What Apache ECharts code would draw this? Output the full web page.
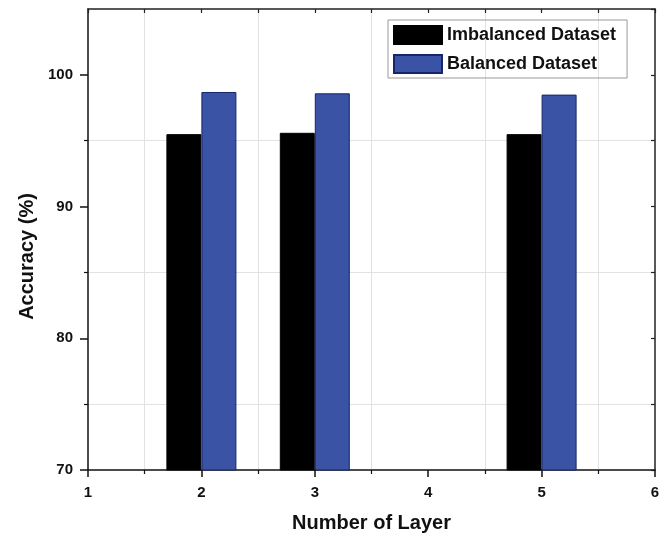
<!DOCTYPE html>
<html>
<head>
<meta charset="utf-8">
<script src="https://cdn.jsdelivr.net/npm/echarts@6/dist/echarts.min.js"></script>
<style>html,body{margin:0;padding:0;background:#fff}#c{width:664px;height:538px}</style>
</head>
<body>
<div id="c"></div>
<script>
var layers = [2, 3, 5];
var imbalanced = [95.5, 95.6, 95.5];
var balanced = [98.7, 98.6, 98.5];
var seriesNames = ['Imbalanced Dataset', 'Balanced Dataset'];
var yMajorTicks = [70, 80, 90, 100];
var yMinorTicks = [75, 85, 95];
var xTicks = [1, 2, 3, 4, 5, 6];

var FONT = "'Liberation Sans', Arial, sans-serif";
var chart = echarts.init(document.getElementById('c'), null, {renderer: 'canvas'});

function pairs(xs, ys) { return xs.map(function (x, i) { return [x, ys[i]]; }); }

chart.setOption({
  animation: false,
  grid: {left: 88, right: 9, top: 9, bottom: 68},
  legend: {
    orient: 'vertical', left: 388, top: 20,
    itemWidth: 48, itemHeight: 18, itemGap: 9,
    padding: [5, 11, 4, 5],
    borderColor: '#999', borderWidth: 1,
    icon: 'rect',
    data: seriesNames,
    textStyle: {fontFamily: FONT, fontWeight: 'bold', fontSize: 18, color: '#111'}
  },
  xAxis: [
    {
      type: 'value', position: 'bottom', min: 1, max: 6, interval: 1,
      axisLine: {show: true, onZero: false, lineStyle: {color: '#111', width: 1.5}},
      axisTick: {show: true, length: 7, lineStyle: {color: '#111', width: 1.5}},
      minorTick: {show: true, splitNumber: 2, length: 4, lineStyle: {color: '#111', width: 1.2}},
      splitLine: {show: false},
      minorSplitLine: {show: true, lineStyle: {color: '#e2e2e2', width: 1}},
      axisLabel: {margin: 15, fontFamily: FONT, fontWeight: 'bold', fontSize: 15, color: '#111',
                  customValues: xTicks},
      name: 'Number of Layer', nameLocation: 'middle', nameGap: 43,
      nameTextStyle: {fontFamily: FONT, fontWeight: 'bold', fontSize: 20, color: '#111'}
    },
    {
      type: 'value', position: 'top', min: 1, max: 6, interval: 0.5,
      axisLine: {show: true, onZero: false, lineStyle: {color: '#222', width: 1.5}},
      axisTick: {show: true, inside: true, length: 4, lineStyle: {color: '#222', width: 1.2}},
      axisLabel: {show: false}, splitLine: {show: false}
    }
  ],
  yAxis: [
    {
      type: 'value', position: 'left', min: 70, max: 105, interval: 5,
      axisLine: {show: true, onZero: false, lineStyle: {color: '#111', width: 1.5}},
      axisTick: {show: true, length: 8, customValues: yMajorTicks, lineStyle: {color: '#111', width: 1.5}},
      axisLabel: {margin: 15, fontFamily: FONT, fontWeight: 'bold', fontSize: 15, color: '#111',
                  customValues: yMajorTicks},
      splitLine: {show: false},
      name: 'Accuracy (%)', nameLocation: 'middle', nameGap: 50,
      nameTextStyle: {fontFamily: FONT, fontWeight: 'bold', fontSize: 20, color: '#111',
                      padding: [0, 34, 0, 0]}
    },
    {
      type: 'value', position: 'left', min: 70, max: 105, interval: 5,
      axisLine: {show: false, onZero: false},
      axisTick: {show: true, length: 4, customValues: yMinorTicks, lineStyle: {color: '#111', width: 1.2}},
      axisLabel: {show: false},
      splitLine: {show: true, lineStyle: {color: '#e2e2e2', width: 1}}
    },
    {
      type: 'value', position: 'right', min: 70, max: 105, interval: 5,
      axisLine: {show: true, onZero: false, lineStyle: {color: '#222', width: 1.5}},
      axisTick: {show: true, inside: true, length: 4, lineStyle: {color: '#222', width: 1.2}},
      axisLabel: {show: false}, splitLine: {show: false}
    }
  ],
  series: [
    {
      name: seriesNames[0], type: 'bar', xAxisIndex: 0, yAxisIndex: 0,
      barWidth: 35, barGap: '0%',
      itemStyle: {color: '#000', borderColor: '#000', borderWidth: 1},
      data: pairs(layers, imbalanced)
    },
    {
      name: seriesNames[1], type: 'bar', xAxisIndex: 0, yAxisIndex: 0,
      barWidth: 35, barGap: '0%',
      itemStyle: {color: '#3a53a5', borderColor: '#17256a', borderWidth: 1},
      data: pairs(layers, balanced)
    }
  ]
});
</script>
</body>
</html>
